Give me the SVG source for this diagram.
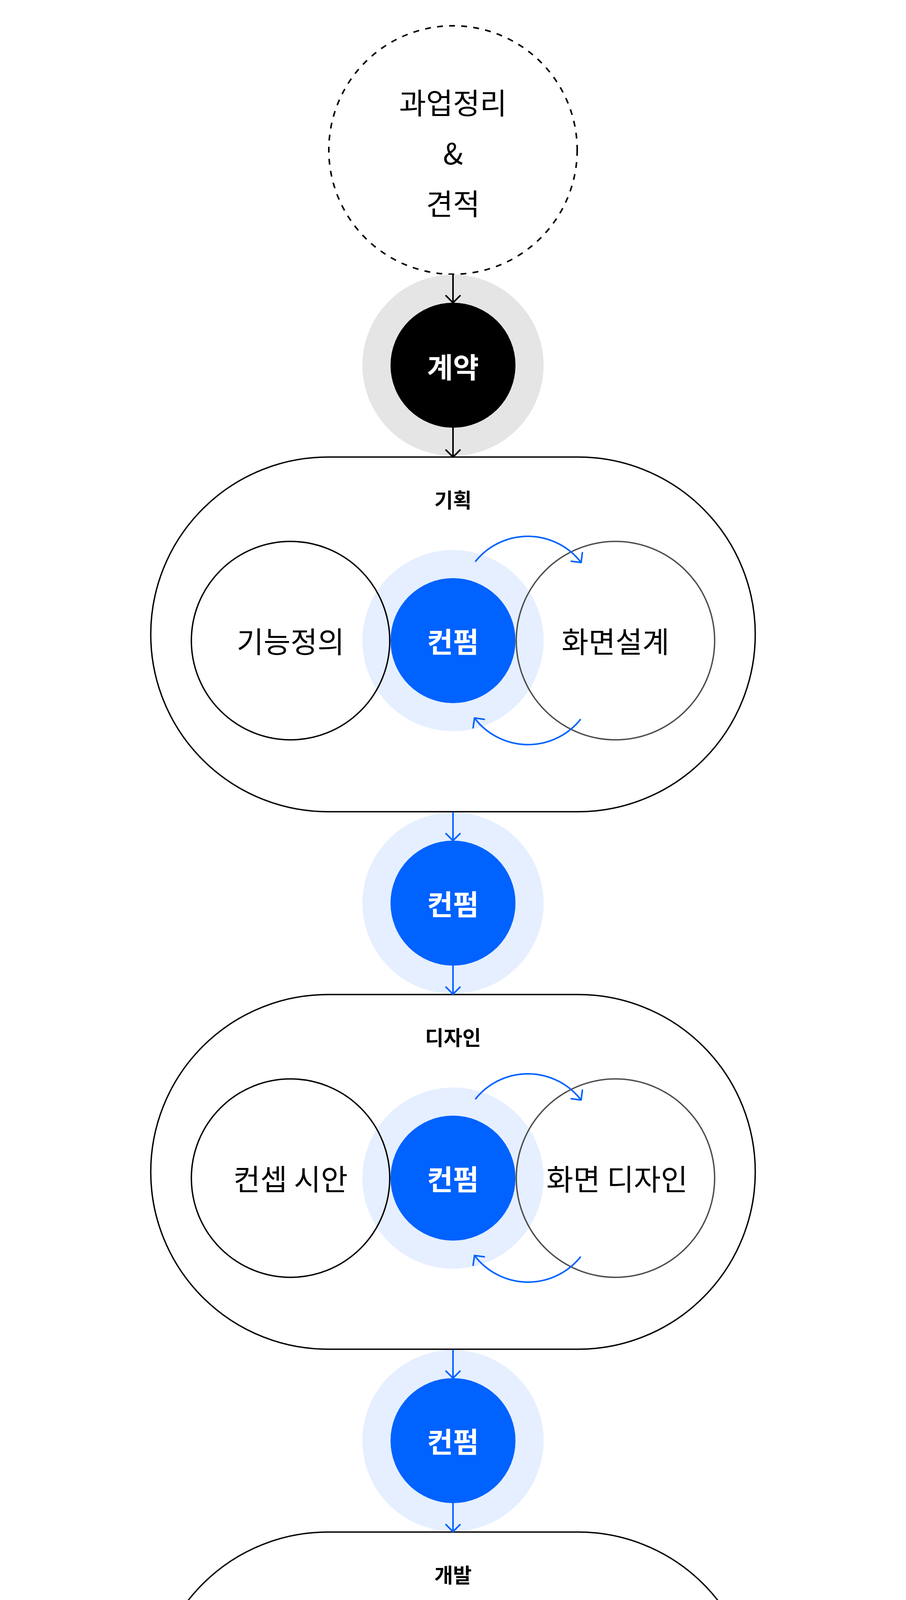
<svg xmlns="http://www.w3.org/2000/svg" width="2320" height="6272" viewBox="0 0 2320 6272">
<style>
  .t { font-family: "Noto Sans CJK KR", "Noto Sans", sans-serif; font-size: 75px; text-anchor: middle; dominant-baseline: central; fill: #000; }
  .w { fill: #fff; font-weight: 700; font-size: 72px; }
  .title { font-size: 52px; font-weight: 700; }
  .frame { fill: #fff; stroke: #000; stroke-width: 3.5; }
  .inner { fill: none; stroke: #000; stroke-width: 3.5; }
  .inner2 { fill: none; stroke: #4d4d4d; stroke-width: 3.5; }
  .halo { fill: #e5efff; }
  .blue { fill: #0062ff; }
  .cb { fill: none; stroke: #000; stroke-width: 4; }
  .cl { fill: none; stroke: #0062ff; stroke-width: 4; }
</style>
<defs>
  <marker id="ab" markerUnits="userSpaceOnUse" viewBox="-22 -22 44 44" markerWidth="44" markerHeight="44" refX="0" refY="0" orient="auto">
    <path d="M -18 -18 L 0 0 L -18 18" fill="none" stroke="#000" stroke-width="4" stroke-linecap="round" stroke-linejoin="round"/>
  </marker>
  <marker id="al" markerUnits="userSpaceOnUse" viewBox="-22 -22 44 44" markerWidth="44" markerHeight="44" refX="0" refY="0" orient="auto">
    <path d="M -18 -18 L 0 0 L -18 18" fill="none" stroke="#0062ff" stroke-width="4" stroke-linecap="round" stroke-linejoin="round"/>
  </marker>
</defs>
<rect width="2320" height="6272" fill="#fff"/>

<g id="estimate">
  <circle cx="1160" cy="384" r="318" fill="none" stroke="#000" stroke-width="4" stroke-dasharray="15 16"/>
  <text class="t" x="1160" y="259">과업정리</text>
  <text class="t" x="1160" y="388">&amp;</text>
  <text class="t" x="1160" y="517">견적</text>
</g>

<g id="contract">
  <circle cx="1160" cy="935" r="232" fill="#e5e5e5"/>
  <circle cx="1160" cy="935" r="160" fill="#000"/>
  <text class="t w" x="1160" y="935">계약</text>
</g>

<g id="planning">
  <rect class="frame" x="386" y="1170" width="1548" height="908" rx="454" ry="454"/>
  <text class="t title" x="1160" y="1277">기획</text>
  <circle class="halo" cx="1160" cy="1640" r="232"/>
  <g id="func-def">
    <circle class="inner" cx="744" cy="1640" r="254"/>
    <text class="t" x="744" y="1638">기능정의</text>
  </g>
  <g id="screen-plan">
    <circle class="inner2" cx="1576" cy="1640" r="254"/>
    <text class="t" x="1576" y="1638">화면설계</text>
  </g>
  <g id="confirm-plan">
    <circle class="blue" cx="1160" cy="1640" r="160"/>
    <text class="t w" x="1160" y="1638">컨펌</text>
  </g>
</g>

<g id="confirm-1">
  <circle class="halo" cx="1160" cy="2312" r="232"/>
  <circle class="blue" cx="1160" cy="2312" r="160"/>
  <text class="t w" x="1160" y="2310">컨펌</text>
</g>

<g id="design">
  <rect class="frame" x="386" y="2546" width="1548" height="908" rx="454" ry="454"/>
  <text class="t title" x="1160" y="2653">디자인</text>
  <circle class="halo" cx="1160" cy="3016" r="232"/>
  <g id="concept">
    <circle class="inner" cx="744" cy="3016" r="254"/>
    <text class="t" x="744" y="3014">컨셉 시안</text>
  </g>
  <g id="screen-design">
    <circle class="inner2" cx="1576" cy="3016" r="254"/>
    <text class="t" x="1580" y="3014">화면 디자인</text>
  </g>
  <g id="confirm-design">
    <circle class="blue" cx="1160" cy="3016" r="160"/>
    <text class="t w" x="1160" y="3014">컨펌</text>
  </g>
</g>

<g id="confirm-2">
  <circle class="halo" cx="1160" cy="3688" r="232"/>
  <circle class="blue" cx="1160" cy="3688" r="160"/>
  <text class="t w" x="1160" y="3686">컨펌</text>
</g>

<g id="development">
  <rect class="frame" x="386" y="3922" width="1548" height="908" rx="454" ry="454"/>
  <text class="t title" x="1160" y="4029">개발</text>
  <g id="frontend">
    <rect class="inner" x="490" y="4143" width="732" height="508" rx="254" ry="254"/>
    <text class="t" x="852" y="4397">프론트엔드</text>
  </g>
  <g id="backend">
    <rect class="inner" x="1098" y="4143" width="732" height="508" rx="254" ry="254"/>
    <text class="t" x="1460" y="4397">백엔드</text>
  </g>
</g>

<g id="qa">
  <circle cx="1160" cy="5248" r="319" fill="#fff" stroke="#000" stroke-width="3.5"/>
  <text class="t" x="1160" y="5124">내부 QA</text>
  <text class="t" x="1160" y="5252">&amp;</text>
  <text class="t" x="1160" y="5380">고객사 QA</text>
</g>

<g id="final-confirm">
  <circle class="halo" cx="1160" cy="5888" r="320"/>
  <circle class="blue" cx="1160" cy="5888" r="224"/>
  <text class="t w" x="1160" y="5884">최종 컨펌</text>
</g>

<g id="connectors">
  <line class="cb" x1="1160" y1="703" x2="1160" y2="775" marker-end="url(#ab)"/>
  <line class="cb" x1="1160" y1="1095" x2="1160" y2="1170" marker-end="url(#ab)"/>
  <line class="cl" x1="1160" y1="2079" x2="1160" y2="2152" marker-end="url(#al)"/>
  <line class="cl" x1="1160" y1="2472" x2="1160" y2="2545" marker-end="url(#al)"/>
  <line class="cl" x1="1160" y1="3455" x2="1160" y2="3528" marker-end="url(#al)"/>
  <line class="cl" x1="1160" y1="3848" x2="1160" y2="3921" marker-end="url(#al)"/>
  <line class="cb" x1="1160" y1="4831" x2="1160" y2="4929" marker-end="url(#ab)"/>
  <line class="cb" x1="1160" y1="5568" x2="1160" y2="5664" marker-end="url(#ab)"/>
  <path class="cl" d="M 1217 1438 A 172 172 0 0 1 1488 1440" marker-end="url(#al)"/>
  <path class="cl" d="M 1487 1841 A 172 172 0 0 1 1215 1838" marker-end="url(#al)"/>
  <path class="cl" d="M 1217 2814 A 172 172 0 0 1 1488 2816" marker-end="url(#al)"/>
  <path class="cl" d="M 1487 3217 A 172 172 0 0 1 1215 3214" marker-end="url(#al)"/>
</g>
</svg>
